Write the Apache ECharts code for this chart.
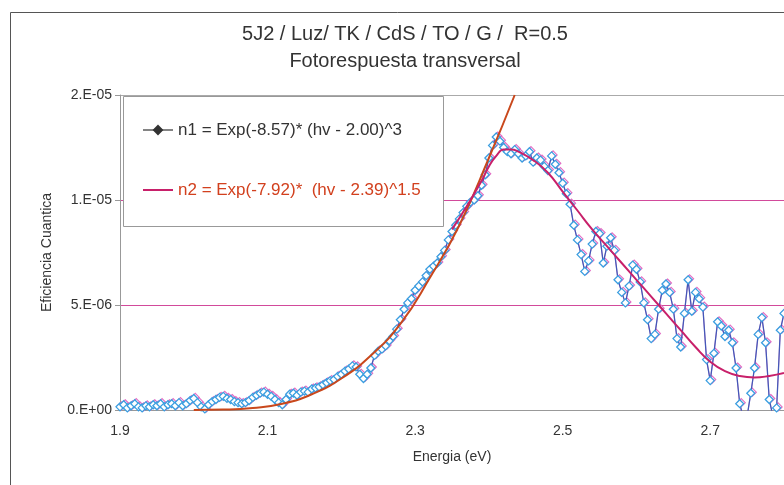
<!DOCTYPE html>
<html>
<head>
<meta charset="utf-8">
<script src="https://cdn.jsdelivr.net/npm/echarts@6/dist/echarts.min.js"></script>
<style>
html,body{margin:0;padding:0;background:#fff;}
#chart{width:784px;height:485px;}
</style>
</head>
<body>
<div id="chart"></div>
<script>
// ---- data (y values in units of 1e-6) ----
var titleLines = ["5J2 / Luz/ TK / CdS / TO / G /  R=0.5", "Fotorespuesta transversal"];
var xAxisName = "Energia (eV)";
var yAxisName = "Eficiencia Cuantica";
var yTickLabels = ["0.E+00", "5.E-06", "1.E-05", "2.E-05"];
var legendN1 = "n1 = Exp(-8.57)* (hv - 2.00)^3";
var legendN2 = "n2 = Exp(-7.92)*  (hv - 2.39)^1.5";

var energy = [
1.900,1.905,1.910,1.915,1.920,1.925,1.930,1.935,1.940,1.945,1.950,1.955,1.960,1.965,1.970,1.975,1.980,1.985,1.990,1.995,
2.000,2.005,2.010,2.015,2.020,2.025,2.030,2.035,2.040,2.045,2.050,2.055,2.060,2.065,2.070,2.075,2.080,2.085,2.090,2.095,
2.100,2.105,2.110,2.115,2.120,2.125,2.130,2.135,2.140,2.145,2.150,2.155,2.160,2.165,2.170,2.175,2.180,2.185,2.190,2.195,
2.200,2.205,2.210,2.215,2.220,2.225,2.230,2.235,2.240,2.245,2.250,2.255,2.260,2.265,2.270,2.275,2.280,2.285,2.290,2.295,
2.300,2.305,2.310,2.315,2.320,2.325,2.330,2.335,2.340,2.345,2.350,2.355,2.360,2.365,2.370,2.375,2.380,2.385,2.390,2.395,
2.400,2.405,2.410,2.415,2.420,2.425,2.430,2.435,2.440,2.445,2.450,2.455,2.460,2.465,2.470,2.475,2.480,2.485,2.490,2.495,
2.500,2.505,2.510,2.515,2.520,2.525,2.530,2.535,2.540,2.545,2.550,2.555,2.560,2.565,2.570,2.575,2.580,2.585,2.590,2.595,
2.600,2.605,2.610,2.615,2.620,2.625,2.630,2.635,2.640,2.645,2.650,2.655,2.660,2.665,2.670,2.675,2.680,2.685,2.690,2.695,
2.700,2.705,2.710,2.715,2.720,2.725,2.730,2.735,2.740,2.745,2.750,2.755,2.760,2.765,2.770,2.775,2.780,2.785,2.790,2.795,
2.800];
var efficiency = [
0.15,0.25,0.10,0.20,0.30,0.15,0.10,0.20,0.15,0.25,0.20,0.30,0.15,0.25,0.30,0.20,0.35,0.20,0.30,0.45,
0.55,0.35,0.15,0.05,0.25,0.40,0.50,0.60,0.65,0.55,0.50,0.40,0.35,0.30,0.35,0.45,0.60,0.70,0.80,0.85,
0.75,0.65,0.50,0.35,0.25,0.50,0.75,0.80,0.70,0.85,0.90,0.85,1.00,1.05,1.10,1.20,1.30,1.40,1.45,1.60,
1.70,1.85,1.95,2.10,2.05,1.70,1.50,1.70,2.00,2.60,2.80,2.90,3.05,3.30,3.50,3.85,4.30,4.80,5.10,5.30,
5.70,5.90,6.10,6.40,6.70,6.85,7.00,7.30,7.60,8.10,8.50,8.80,9.10,9.40,9.70,9.90,10.0,10.2,10.7,11.2,
12.0,12.6,13.0,12.8,12.5,12.3,12.2,12.4,12.2,12.0,12.1,12.3,11.8,12.0,11.9,11.6,11.4,12.1,11.7,11.3,
10.8,10.3,9.80,8.80,8.10,7.40,6.60,7.10,7.90,8.50,8.40,7.00,7.80,8.20,7.60,6.20,5.60,5.10,5.90,6.90,
6.70,6.10,5.10,4.30,3.40,3.60,4.80,5.70,6.00,5.60,4.80,3.40,3.00,4.60,6.20,4.70,5.60,5.30,4.90,2.40,
1.40,2.70,4.20,4.00,3.50,3.80,3.20,2.00,0.30,-0.40,-0.30,0.80,2.00,3.60,4.40,3.20,0.50,-0.30,0.10,3.80,
4.60];

var fit1Energy = [2.00,2.04,2.08,2.12,2.16,2.20,2.24,2.28,2.32,2.36,2.40,2.435];
var fit1Value  = [0.00,0.02,0.10,0.30,0.75,1.50,2.60,4.10,6.30,8.80,12.0,15.0];

var fit2Energy = [2.35,2.37,2.39,2.40,2.41,2.42,2.43,2.44,2.46,2.48,2.50,2.52,2.54,2.56,2.58,2.60,2.62,2.64,2.66,2.68,2.70,2.72,2.74,2.76,2.78,2.80];
var fit2Value  = [8.6,9.7,10.9,11.6,12.1,12.4,12.4,12.3,11.9,11.3,10.4,9.5,8.6,7.8,7.0,6.2,5.4,4.6,3.8,3.0,2.3,1.85,1.62,1.55,1.62,1.76];

function pairs(xs, ys){ return xs.map(function(x,i){ return [x, ys[i]*1e-6]; }); }

var chart = echarts.init(document.getElementById('chart'), null, {renderer:'canvas'});
var FONT = 'Liberation Sans, Arial, sans-serif';

var option = {
  backgroundColor: '#fff',
  animation: false,
  textStyle: {fontFamily: FONT},
  title: {
    text: titleLines.join('\n'),
    left: 400, top: 16, textAlign: 'center',
    textStyle: {fontSize: 20, fontWeight: 'normal', color: '#333', lineHeight: 27, fontFamily: FONT}
  },
  graphic: [
    {type:'rect', left: 8, top: 10, shape:{width: 800, height: 500}, style:{fill:'none', stroke:'#555', lineWidth:1}, z: 0, silent:true},
    {type:'rect', left: 123, top: 96, shape:{width: 320, height: 130}, style:{fill:'#fff', stroke:'#999', lineWidth:1}, z: 5, silent:true}
  ],
  legend: {
    orient: 'vertical', left: 137, top: 115, z: 10,
    itemWidth: 30, itemHeight: 10, itemGap: 40,
    textStyle: {fontSize: 17, lineHeight: 20, fontFamily: FONT},
    data: [
      {name: legendN1, itemStyle:{color:'#333', borderColor:'#333'}, lineStyle:{color:'#333', width:1.2}, textStyle:{color:'#333'}},
      {name: legendN2, itemStyle:{color:'rgba(0,0,0,0)', borderColor:'rgba(0,0,0,0)', opacity: 0}, lineStyle:{color:'#c8206a', width:2}, textStyle:{color:'#d2401e'}}
    ]
  },
  grid: {left: 120, right: 0, top: 95, bottom: 75, containLabel: false},
  xAxis: {
    type: 'value', min: 1.9, max: 2.8, interval: 0.2,
    name: xAxisName, nameLocation: 'middle', nameGap: 40,
    nameTextStyle: {fontSize: 14, color: '#333'},
    axisLine: {show: true, lineStyle: {color: '#999'}},
    axisTick: {show: false},
    splitLine: {show: false},
    axisLabel: {fontSize: 14, color: '#333', margin: 14, showMaxLabel: false,
      formatter: function(v){ return (Math.round(v*10)/10).toFixed(1); }}
  },
  yAxis: {
    type: 'value', min: 0, max: 1.5e-5, interval: 5e-6,
    name: yAxisName, nameLocation: 'middle', nameGap: 66, nameRotate: 90,
    nameTextStyle: {fontSize: 14, color: '#333'},
    axisLine: {show: true, lineStyle: {color: '#999'}},
    axisTick: {show: true, length: 5, lineStyle: {color: '#999'}},
    splitLine: {show: true, lineStyle: {color: ['#999', '#d24a9b', '#d24a9b', '#aaa'], width: 1}},
    axisLabel: {fontSize: 14, color: '#333', margin: 8,
      formatter: function(v){ return yTickLabels[Math.round(v/5e-6)]; }}
  },
  series: [
    {
      name: 'halo', type: 'line', data: pairs(energy, efficiency),
      symbol: 'diamond', symbolSize: 8, symbolOffset: [1.5, -1],
      lineStyle: {color: '#e070c0', width: 1, opacity: 0.8},
      itemStyle: {color: 'rgba(255,255,255,0)', borderColor: '#e26ec4', borderWidth: 1.2},
      clip: true, z: 2, silent: true
    },
    {
      name: legendN1, type: 'line', data: pairs(energy, efficiency),
      symbol: 'diamond', symbolSize: 8,
      lineStyle: {color: '#4458b8', width: 1.3},
      itemStyle: {color: '#ffffff', borderColor: '#3a9ee0', borderWidth: 1.3},
      clip: true, z: 3
    },
    {
      name: 'fit1', type: 'line', data: pairs(fit1Energy, fit1Value), smooth: true,
      symbol: 'none', lineStyle: {color: '#c9481c', width: 2}, clip: true, z: 4
    },
    {
      name: legendN2, type: 'line', data: pairs(fit2Energy, fit2Value), smooth: true,
      symbol: 'none', lineStyle: {color: '#c8206a', width: 2}, itemStyle:{color:'#c8206a'}, clip: true, z: 4
    }
  ]
};
chart.setOption(option);
</script>
</body>
</html>
